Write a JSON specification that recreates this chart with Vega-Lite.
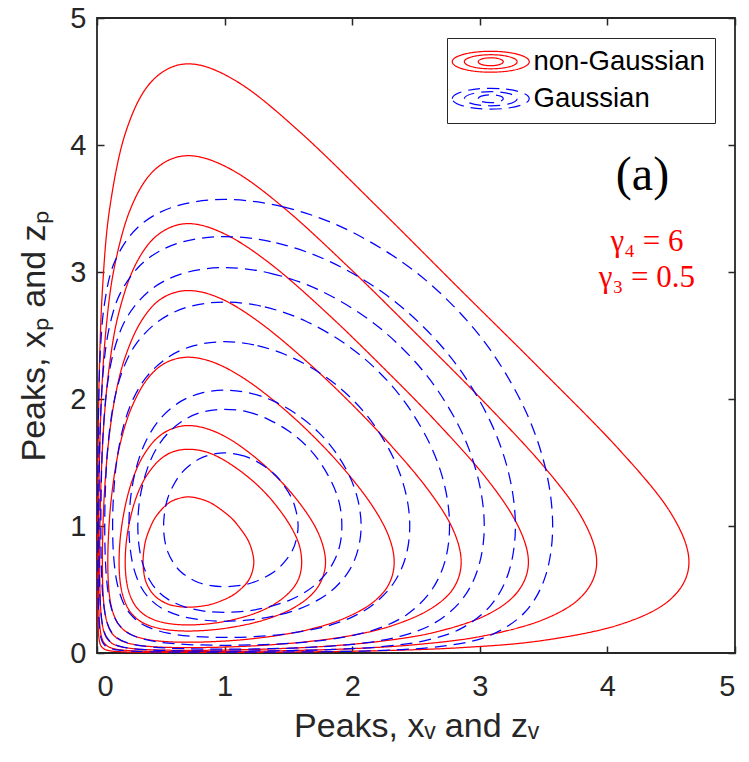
{
"$schema": "https://vega.github.io/schema/vega-lite/v6.json",
"width": 638, "height": 635,
"autosize": {"type": "none"},
"padding": {"left": 97, "top": 18, "right": 14, "bottom": 109},
"background": "white",
"config": {
 "view": {"stroke": "#262626", "strokeWidth": 1.8},
 "axis": {"domain": false, "grid": false, "tickSize": -7, "tickWidth": 1.5, "tickColor": "#262626", "labelFont": "Liberation Sans", "labelFontSize": 29, "labelColor": "#262626", "titleFont": "Liberation Sans", "titleFontSize": 34, "titleFontWeight": "normal", "titleColor": "#262626"},
 "axisBottom": {"labelPadding": 26, "titlePadding": 8},
 "axisLeft": {"labelPadding": 18, "titlePadding": 18}
},
"datasets": {"contours": [
{"k":"Gaussian","c":"B1","i":1,"x":1,"y":3.571},{"k":"Gaussian","c":"B1","i":2,"x":1.453,"y":3.515},{"k":"Gaussian","c":"B1","i":3,"x":1.919,"y":3.353},{"k":"Gaussian","c":"B1","i":4,"x":2.384,"y":3.084},{"k":"Gaussian","c":"B1","i":5,"x":2.763,"y":2.763},{"k":"Gaussian","c":"B1","i":6,"x":3.084,"y":2.384},{"k":"Gaussian","c":"B1","i":7,"x":3.353,"y":1.919},{"k":"Gaussian","c":"B1","i":8,"x":3.515,"y":1.453},{"k":"Gaussian","c":"B1","i":9,"x":3.571,"y":1},{"k":"Gaussian","c":"B1","i":10,"x":3.515,"y":0.607},{"k":"Gaussian","c":"B1","i":11,"x":3.353,"y":0.321},{"k":"Gaussian","c":"B1","i":12,"x":3.084,"y":0.14},{"k":"Gaussian","c":"B1","i":13,"x":2.763,"y":0.0607},{"k":"Gaussian","c":"B1","i":14,"x":2.384,"y":0.0265},{"k":"Gaussian","c":"B1","i":15,"x":1.919,"y":0.0121},{"k":"Gaussian","c":"B1","i":16,"x":1.453,"y":0.0073},{"k":"Gaussian","c":"B1","i":17,"x":1,"y":0.0061},{"k":"Gaussian","c":"B1","i":18,"x":0.607,"y":0.0073},{"k":"Gaussian","c":"B1","i":19,"x":0.321,"y":0.0121},{"k":"Gaussian","c":"B1","i":20,"x":0.14,"y":0.0265},{"k":"Gaussian","c":"B1","i":21,"x":0.0607,"y":0.0607},{"k":"Gaussian","c":"B1","i":22,"x":0.0265,"y":0.14},{"k":"Gaussian","c":"B1","i":23,"x":0.0121,"y":0.321},{"k":"Gaussian","c":"B1","i":24,"x":0.0073,"y":0.607},{"k":"Gaussian","c":"B1","i":25,"x":0.0061,"y":1},{"k":"Gaussian","c":"B1","i":26,"x":0.0073,"y":1.453},{"k":"Gaussian","c":"B1","i":27,"x":0.0121,"y":1.919},{"k":"Gaussian","c":"B1","i":28,"x":0.0265,"y":2.384},{"k":"Gaussian","c":"B1","i":29,"x":0.0607,"y":2.763},{"k":"Gaussian","c":"B1","i":30,"x":0.14,"y":3.084},{"k":"Gaussian","c":"B1","i":31,"x":0.321,"y":3.353},{"k":"Gaussian","c":"B1","i":32,"x":0.607,"y":3.515},
{"k":"Gaussian","c":"B2","i":1,"x":1,"y":3.279},{"k":"Gaussian","c":"B2","i":2,"x":1.405,"y":3.229},{"k":"Gaussian","c":"B2","i":3,"x":1.816,"y":3.086},{"k":"Gaussian","c":"B2","i":4,"x":2.227,"y":2.848},{"k":"Gaussian","c":"B2","i":5,"x":2.563,"y":2.563},{"k":"Gaussian","c":"B2","i":6,"x":2.848,"y":2.227},{"k":"Gaussian","c":"B2","i":7,"x":3.086,"y":1.816},{"k":"Gaussian","c":"B2","i":8,"x":3.229,"y":1.405},{"k":"Gaussian","c":"B2","i":9,"x":3.279,"y":1},{"k":"Gaussian","c":"B2","i":10,"x":3.229,"y":0.644},{"k":"Gaussian","c":"B2","i":11,"x":3.086,"y":0.375},{"k":"Gaussian","c":"B2","i":12,"x":2.848,"y":0.19},{"k":"Gaussian","c":"B2","i":13,"x":2.563,"y":0.0963},{"k":"Gaussian","c":"B2","i":14,"x":2.227,"y":0.0494},{"k":"Gaussian","c":"B2","i":15,"x":1.816,"y":0.0264},{"k":"Gaussian","c":"B2","i":16,"x":1.405,"y":0.0176},{"k":"Gaussian","c":"B2","i":17,"x":1,"y":0.0152},{"k":"Gaussian","c":"B2","i":18,"x":0.644,"y":0.0176},{"k":"Gaussian","c":"B2","i":19,"x":0.375,"y":0.0264},{"k":"Gaussian","c":"B2","i":20,"x":0.19,"y":0.0494},{"k":"Gaussian","c":"B2","i":21,"x":0.0963,"y":0.0963},{"k":"Gaussian","c":"B2","i":22,"x":0.0494,"y":0.19},{"k":"Gaussian","c":"B2","i":23,"x":0.0264,"y":0.375},{"k":"Gaussian","c":"B2","i":24,"x":0.0176,"y":0.644},{"k":"Gaussian","c":"B2","i":25,"x":0.0152,"y":1},{"k":"Gaussian","c":"B2","i":26,"x":0.0176,"y":1.405},{"k":"Gaussian","c":"B2","i":27,"x":0.0264,"y":1.816},{"k":"Gaussian","c":"B2","i":28,"x":0.0494,"y":2.227},{"k":"Gaussian","c":"B2","i":29,"x":0.0963,"y":2.563},{"k":"Gaussian","c":"B2","i":30,"x":0.19,"y":2.848},{"k":"Gaussian","c":"B2","i":31,"x":0.375,"y":3.086},{"k":"Gaussian","c":"B2","i":32,"x":0.644,"y":3.229},
{"k":"Gaussian","c":"B3","i":1,"x":1,"y":3.035},{"k":"Gaussian","c":"B3","i":2,"x":1.361,"y":2.99},{"k":"Gaussian","c":"B3","i":3,"x":1.73,"y":2.863},{"k":"Gaussian","c":"B3","i":4,"x":2.097,"y":2.65},{"k":"Gaussian","c":"B3","i":5,"x":2.396,"y":2.396},{"k":"Gaussian","c":"B3","i":6,"x":2.65,"y":2.097},{"k":"Gaussian","c":"B3","i":7,"x":2.863,"y":1.73},{"k":"Gaussian","c":"B3","i":8,"x":2.99,"y":1.361},{"k":"Gaussian","c":"B3","i":9,"x":3.035,"y":1},{"k":"Gaussian","c":"B3","i":10,"x":2.99,"y":0.678},{"k":"Gaussian","c":"B3","i":11,"x":2.863,"y":0.424},{"k":"Gaussian","c":"B3","i":12,"x":2.65,"y":0.239},{"k":"Gaussian","c":"B3","i":13,"x":2.396,"y":0.137},{"k":"Gaussian","c":"B3","i":14,"x":2.097,"y":0.0794},{"k":"Gaussian","c":"B3","i":15,"x":1.73,"y":0.0476},{"k":"Gaussian","c":"B3","i":16,"x":1.361,"y":0.0342},{"k":"Gaussian","c":"B3","i":17,"x":1,"y":0.0303},{"k":"Gaussian","c":"B3","i":18,"x":0.678,"y":0.0342},{"k":"Gaussian","c":"B3","i":19,"x":0.424,"y":0.0476},{"k":"Gaussian","c":"B3","i":20,"x":0.239,"y":0.0794},{"k":"Gaussian","c":"B3","i":21,"x":0.137,"y":0.137},{"k":"Gaussian","c":"B3","i":22,"x":0.0794,"y":0.239},{"k":"Gaussian","c":"B3","i":23,"x":0.0476,"y":0.424},{"k":"Gaussian","c":"B3","i":24,"x":0.0342,"y":0.678},{"k":"Gaussian","c":"B3","i":25,"x":0.0303,"y":1},{"k":"Gaussian","c":"B3","i":26,"x":0.0342,"y":1.361},{"k":"Gaussian","c":"B3","i":27,"x":0.0476,"y":1.73},{"k":"Gaussian","c":"B3","i":28,"x":0.0794,"y":2.097},{"k":"Gaussian","c":"B3","i":29,"x":0.137,"y":2.396},{"k":"Gaussian","c":"B3","i":30,"x":0.239,"y":2.65},{"k":"Gaussian","c":"B3","i":31,"x":0.424,"y":2.863},{"k":"Gaussian","c":"B3","i":32,"x":0.678,"y":2.99},
{"k":"Gaussian","c":"B4","i":1,"x":1,"y":2.763},{"k":"Gaussian","c":"B4","i":2,"x":1.315,"y":2.725},{"k":"Gaussian","c":"B4","i":3,"x":1.634,"y":2.614},{"k":"Gaussian","c":"B4","i":4,"x":1.951,"y":2.43},{"k":"Gaussian","c":"B4","i":5,"x":2.211,"y":2.211},{"k":"Gaussian","c":"B4","i":6,"x":2.43,"y":1.951},{"k":"Gaussian","c":"B4","i":7,"x":2.614,"y":1.634},{"k":"Gaussian","c":"B4","i":8,"x":2.725,"y":1.315},{"k":"Gaussian","c":"B4","i":9,"x":2.763,"y":1},{"k":"Gaussian","c":"B4","i":10,"x":2.725,"y":0.715},{"k":"Gaussian","c":"B4","i":11,"x":2.614,"y":0.484},{"k":"Gaussian","c":"B4","i":12,"x":2.43,"y":0.304},{"k":"Gaussian","c":"B4","i":13,"x":2.211,"y":0.1955},{"k":"Gaussian","c":"B4","i":14,"x":1.951,"y":0.1278},{"k":"Gaussian","c":"B4","i":15,"x":1.634,"y":0.086},{"k":"Gaussian","c":"B4","i":16,"x":1.315,"y":0.0666},{"k":"Gaussian","c":"B4","i":17,"x":1,"y":0.0607},{"k":"Gaussian","c":"B4","i":18,"x":0.715,"y":0.0666},{"k":"Gaussian","c":"B4","i":19,"x":0.484,"y":0.086},{"k":"Gaussian","c":"B4","i":20,"x":0.304,"y":0.1278},{"k":"Gaussian","c":"B4","i":21,"x":0.1955,"y":0.1955},{"k":"Gaussian","c":"B4","i":22,"x":0.1278,"y":0.304},{"k":"Gaussian","c":"B4","i":23,"x":0.086,"y":0.484},{"k":"Gaussian","c":"B4","i":24,"x":0.0666,"y":0.715},{"k":"Gaussian","c":"B4","i":25,"x":0.0607,"y":1},{"k":"Gaussian","c":"B4","i":26,"x":0.0666,"y":1.315},{"k":"Gaussian","c":"B4","i":27,"x":0.086,"y":1.634},{"k":"Gaussian","c":"B4","i":28,"x":0.1278,"y":1.951},{"k":"Gaussian","c":"B4","i":29,"x":0.1955,"y":2.211},{"k":"Gaussian","c":"B4","i":30,"x":0.304,"y":2.43},{"k":"Gaussian","c":"B4","i":31,"x":0.484,"y":2.614},{"k":"Gaussian","c":"B4","i":32,"x":0.715,"y":2.725},
{"k":"Gaussian","c":"B5","i":1,"x":1,"y":2.451},{"k":"Gaussian","c":"B5","i":2,"x":1.258,"y":2.42},{"k":"Gaussian","c":"B5","i":3,"x":1.523,"y":2.329},{"k":"Gaussian","c":"B5","i":4,"x":1.786,"y":2.178},{"k":"Gaussian","c":"B5","i":5,"x":1.999,"y":1.999},{"k":"Gaussian","c":"B5","i":6,"x":2.178,"y":1.786},{"k":"Gaussian","c":"B5","i":7,"x":2.329,"y":1.523},{"k":"Gaussian","c":"B5","i":8,"x":2.42,"y":1.258},{"k":"Gaussian","c":"B5","i":9,"x":2.451,"y":1},{"k":"Gaussian","c":"B5","i":10,"x":2.42,"y":0.76},{"k":"Gaussian","c":"B5","i":11,"x":2.329,"y":0.557},{"k":"Gaussian","c":"B5","i":12,"x":2.178,"y":0.392},{"k":"Gaussian","c":"B5","i":13,"x":1.999,"y":0.283},{"k":"Gaussian","c":"B5","i":14,"x":1.786,"y":0.2077},{"k":"Gaussian","c":"B5","i":15,"x":1.523,"y":0.1562},{"k":"Gaussian","c":"B5","i":16,"x":1.258,"y":0.1305},{"k":"Gaussian","c":"B5","i":17,"x":1,"y":0.1223},{"k":"Gaussian","c":"B5","i":18,"x":0.76,"y":0.1305},{"k":"Gaussian","c":"B5","i":19,"x":0.557,"y":0.1562},{"k":"Gaussian","c":"B5","i":20,"x":0.392,"y":0.2077},{"k":"Gaussian","c":"B5","i":21,"x":0.283,"y":0.283},{"k":"Gaussian","c":"B5","i":22,"x":0.2077,"y":0.392},{"k":"Gaussian","c":"B5","i":23,"x":0.1562,"y":0.557},{"k":"Gaussian","c":"B5","i":24,"x":0.1305,"y":0.76},{"k":"Gaussian","c":"B5","i":25,"x":0.1223,"y":1},{"k":"Gaussian","c":"B5","i":26,"x":0.1305,"y":1.258},{"k":"Gaussian","c":"B5","i":27,"x":0.1562,"y":1.523},{"k":"Gaussian","c":"B5","i":28,"x":0.2077,"y":1.786},{"k":"Gaussian","c":"B5","i":29,"x":0.283,"y":1.999},{"k":"Gaussian","c":"B5","i":30,"x":0.392,"y":2.178},{"k":"Gaussian","c":"B5","i":31,"x":0.557,"y":2.329},{"k":"Gaussian","c":"B5","i":32,"x":0.76,"y":2.42},
{"k":"Gaussian","c":"B6","i":1,"x":1,"y":2.07},{"k":"Gaussian","c":"B6","i":2,"x":1.199,"y":2.046},{"k":"Gaussian","c":"B6","i":3,"x":1.389,"y":1.981},{"k":"Gaussian","c":"B6","i":4,"x":1.581,"y":1.869},{"k":"Gaussian","c":"B6","i":5,"x":1.737,"y":1.737},{"k":"Gaussian","c":"B6","i":6,"x":1.869,"y":1.581},{"k":"Gaussian","c":"B6","i":7,"x":1.981,"y":1.389},{"k":"Gaussian","c":"B6","i":8,"x":2.046,"y":1.199},{"k":"Gaussian","c":"B6","i":9,"x":2.07,"y":1},{"k":"Gaussian","c":"B6","i":10,"x":2.046,"y":0.816},{"k":"Gaussian","c":"B6","i":11,"x":1.981,"y":0.656},{"k":"Gaussian","c":"B6","i":12,"x":1.869,"y":0.518},{"k":"Gaussian","c":"B6","i":13,"x":1.737,"y":0.42},{"k":"Gaussian","c":"B6","i":14,"x":1.581,"y":0.346},{"k":"Gaussian","c":"B6","i":15,"x":1.389,"y":0.291},{"k":"Gaussian","c":"B6","i":16,"x":1.199,"y":0.261},{"k":"Gaussian","c":"B6","i":17,"x":1,"y":0.25},{"k":"Gaussian","c":"B6","i":18,"x":0.816,"y":0.261},{"k":"Gaussian","c":"B6","i":19,"x":0.656,"y":0.291},{"k":"Gaussian","c":"B6","i":20,"x":0.518,"y":0.346},{"k":"Gaussian","c":"B6","i":21,"x":0.42,"y":0.42},{"k":"Gaussian","c":"B6","i":22,"x":0.346,"y":0.518},{"k":"Gaussian","c":"B6","i":23,"x":0.291,"y":0.656},{"k":"Gaussian","c":"B6","i":24,"x":0.261,"y":0.816},{"k":"Gaussian","c":"B6","i":25,"x":0.25,"y":1},{"k":"Gaussian","c":"B6","i":26,"x":0.261,"y":1.199},{"k":"Gaussian","c":"B6","i":27,"x":0.291,"y":1.389},{"k":"Gaussian","c":"B6","i":28,"x":0.346,"y":1.581},{"k":"Gaussian","c":"B6","i":29,"x":0.42,"y":1.737},{"k":"Gaussian","c":"B6","i":30,"x":0.518,"y":1.869},{"k":"Gaussian","c":"B6","i":31,"x":0.656,"y":1.981},{"k":"Gaussian","c":"B6","i":32,"x":0.816,"y":2.046},
{"k":"Gaussian","c":"B7","i":1,"x":1,"y":1.919},{"k":"Gaussian","c":"B7","i":2,"x":1.172,"y":1.901},{"k":"Gaussian","c":"B7","i":3,"x":1.334,"y":1.844},{"k":"Gaussian","c":"B7","i":4,"x":1.502,"y":1.748},{"k":"Gaussian","c":"B7","i":5,"x":1.636,"y":1.636},{"k":"Gaussian","c":"B7","i":6,"x":1.748,"y":1.502},{"k":"Gaussian","c":"B7","i":7,"x":1.844,"y":1.334},{"k":"Gaussian","c":"B7","i":8,"x":1.901,"y":1.172},{"k":"Gaussian","c":"B7","i":9,"x":1.919,"y":1},{"k":"Gaussian","c":"B7","i":10,"x":1.901,"y":0.839},{"k":"Gaussian","c":"B7","i":11,"x":1.844,"y":0.698},{"k":"Gaussian","c":"B7","i":12,"x":1.748,"y":0.573},{"k":"Gaussian","c":"B7","i":13,"x":1.636,"y":0.482},{"k":"Gaussian","c":"B7","i":14,"x":1.502,"y":0.413},{"k":"Gaussian","c":"B7","i":15,"x":1.334,"y":0.36},{"k":"Gaussian","c":"B7","i":16,"x":1.172,"y":0.33},{"k":"Gaussian","c":"B7","i":17,"x":1,"y":0.32},{"k":"Gaussian","c":"B7","i":18,"x":0.839,"y":0.33},{"k":"Gaussian","c":"B7","i":19,"x":0.698,"y":0.36},{"k":"Gaussian","c":"B7","i":20,"x":0.573,"y":0.413},{"k":"Gaussian","c":"B7","i":21,"x":0.482,"y":0.482},{"k":"Gaussian","c":"B7","i":22,"x":0.413,"y":0.573},{"k":"Gaussian","c":"B7","i":23,"x":0.36,"y":0.698},{"k":"Gaussian","c":"B7","i":24,"x":0.33,"y":0.839},{"k":"Gaussian","c":"B7","i":25,"x":0.32,"y":1},{"k":"Gaussian","c":"B7","i":26,"x":0.33,"y":1.172},{"k":"Gaussian","c":"B7","i":27,"x":0.36,"y":1.334},{"k":"Gaussian","c":"B7","i":28,"x":0.413,"y":1.502},{"k":"Gaussian","c":"B7","i":29,"x":0.482,"y":1.636},{"k":"Gaussian","c":"B7","i":30,"x":0.573,"y":1.748},{"k":"Gaussian","c":"B7","i":31,"x":0.698,"y":1.844},{"k":"Gaussian","c":"B7","i":32,"x":0.839,"y":1.901},
{"k":"Gaussian","c":"B8","i":1,"x":1,"y":1.576},{"k":"Gaussian","c":"B8","i":2,"x":1.109,"y":1.562},{"k":"Gaussian","c":"B8","i":3,"x":1.215,"y":1.528},{"k":"Gaussian","c":"B8","i":4,"x":1.315,"y":1.468},{"k":"Gaussian","c":"B8","i":5,"x":1.4,"y":1.4},{"k":"Gaussian","c":"B8","i":6,"x":1.468,"y":1.315},{"k":"Gaussian","c":"B8","i":7,"x":1.528,"y":1.215},{"k":"Gaussian","c":"B8","i":8,"x":1.562,"y":1.109},{"k":"Gaussian","c":"B8","i":9,"x":1.576,"y":1},{"k":"Gaussian","c":"B8","i":10,"x":1.562,"y":0.894},{"k":"Gaussian","c":"B8","i":11,"x":1.528,"y":0.8},{"k":"Gaussian","c":"B8","i":12,"x":1.468,"y":0.715},{"k":"Gaussian","c":"B8","i":13,"x":1.4,"y":0.648},{"k":"Gaussian","c":"B8","i":14,"x":1.315,"y":0.596},{"k":"Gaussian","c":"B8","i":15,"x":1.215,"y":0.553},{"k":"Gaussian","c":"B8","i":16,"x":1.109,"y":0.53},{"k":"Gaussian","c":"B8","i":17,"x":1,"y":0.522},{"k":"Gaussian","c":"B8","i":18,"x":0.894,"y":0.53},{"k":"Gaussian","c":"B8","i":19,"x":0.8,"y":0.553},{"k":"Gaussian","c":"B8","i":20,"x":0.715,"y":0.596},{"k":"Gaussian","c":"B8","i":21,"x":0.648,"y":0.648},{"k":"Gaussian","c":"B8","i":22,"x":0.596,"y":0.715},{"k":"Gaussian","c":"B8","i":23,"x":0.553,"y":0.8},{"k":"Gaussian","c":"B8","i":24,"x":0.53,"y":0.894},{"k":"Gaussian","c":"B8","i":25,"x":0.522,"y":1},{"k":"Gaussian","c":"B8","i":26,"x":0.53,"y":1.109},{"k":"Gaussian","c":"B8","i":27,"x":0.553,"y":1.215},{"k":"Gaussian","c":"B8","i":28,"x":0.596,"y":1.315},{"k":"Gaussian","c":"B8","i":29,"x":0.648,"y":1.4},{"k":"Gaussian","c":"B8","i":30,"x":0.715,"y":1.468},{"k":"Gaussian","c":"B8","i":31,"x":0.8,"y":1.528},{"k":"Gaussian","c":"B8","i":32,"x":0.894,"y":1.562},
{"k":"non-Gaussian","c":"R1","i":1,"x":0.716,"y":4.639},{"k":"non-Gaussian","c":"R1","i":2,"x":1.108,"y":4.493},{"k":"non-Gaussian","c":"R1","i":3,"x":1.604,"y":4.09},{"k":"non-Gaussian","c":"R1","i":4,"x":2.227,"y":3.483},{"k":"non-Gaussian","c":"R1","i":5,"x":2.854,"y":2.854},{"k":"non-Gaussian","c":"R1","i":6,"x":3.483,"y":2.227},{"k":"non-Gaussian","c":"R1","i":7,"x":4.09,"y":1.604},{"k":"non-Gaussian","c":"R1","i":8,"x":4.493,"y":1.108},{"k":"non-Gaussian","c":"R1","i":9,"x":4.639,"y":0.716},{"k":"non-Gaussian","c":"R1","i":10,"x":4.493,"y":0.4215},{"k":"non-Gaussian","c":"R1","i":11,"x":4.09,"y":0.2215},{"k":"non-Gaussian","c":"R1","i":12,"x":3.483,"y":0.0969},{"k":"non-Gaussian","c":"R1","i":13,"x":2.854,"y":0.0422},{"k":"non-Gaussian","c":"R1","i":14,"x":2.227,"y":0.0184},{"k":"non-Gaussian","c":"R1","i":15,"x":1.604,"y":0.0084},{"k":"non-Gaussian","c":"R1","i":16,"x":1.108,"y":0.0051},{"k":"non-Gaussian","c":"R1","i":17,"x":0.716,"y":0.0042},{"k":"non-Gaussian","c":"R1","i":18,"x":0.4215,"y":0.0051},{"k":"non-Gaussian","c":"R1","i":19,"x":0.2215,"y":0.0084},{"k":"non-Gaussian","c":"R1","i":20,"x":0.0969,"y":0.0184},{"k":"non-Gaussian","c":"R1","i":21,"x":0.0422,"y":0.0422},{"k":"non-Gaussian","c":"R1","i":22,"x":0.0184,"y":0.0969},{"k":"non-Gaussian","c":"R1","i":23,"x":0.0084,"y":0.2215},{"k":"non-Gaussian","c":"R1","i":24,"x":0.0051,"y":0.4215},{"k":"non-Gaussian","c":"R1","i":25,"x":0.0042,"y":0.716},{"k":"non-Gaussian","c":"R1","i":26,"x":0.0051,"y":1.108},{"k":"non-Gaussian","c":"R1","i":27,"x":0.0084,"y":1.604},{"k":"non-Gaussian","c":"R1","i":28,"x":0.0184,"y":2.227},{"k":"non-Gaussian","c":"R1","i":29,"x":0.0422,"y":2.854},{"k":"non-Gaussian","c":"R1","i":30,"x":0.0969,"y":3.483},{"k":"non-Gaussian","c":"R1","i":31,"x":0.2215,"y":4.09},{"k":"non-Gaussian","c":"R1","i":32,"x":0.4215,"y":4.493},
{"k":"non-Gaussian","c":"R2","i":1,"x":0.716,"y":3.916},{"k":"non-Gaussian","c":"R2","i":2,"x":1.063,"y":3.801},{"k":"non-Gaussian","c":"R2","i":3,"x":1.485,"y":3.488},{"k":"non-Gaussian","c":"R2","i":4,"x":2.0,"y":3.011},{"k":"non-Gaussian","c":"R2","i":5,"x":2.508,"y":2.508},{"k":"non-Gaussian","c":"R2","i":6,"x":3.011,"y":2.0},{"k":"non-Gaussian","c":"R2","i":7,"x":3.488,"y":1.485},{"k":"non-Gaussian","c":"R2","i":8,"x":3.801,"y":1.063},{"k":"non-Gaussian","c":"R2","i":9,"x":3.916,"y":0.716},{"k":"non-Gaussian","c":"R2","i":10,"x":3.801,"y":0.448},{"k":"non-Gaussian","c":"R2","i":11,"x":3.488,"y":0.259},{"k":"non-Gaussian","c":"R2","i":12,"x":3.011,"y":0.131},{"k":"non-Gaussian","c":"R2","i":13,"x":2.508,"y":0.0668},{"k":"non-Gaussian","c":"R2","i":14,"x":2.0,"y":0.0343},{"k":"non-Gaussian","c":"R2","i":15,"x":1.485,"y":0.0183},{"k":"non-Gaussian","c":"R2","i":16,"x":1.063,"y":0.0122},{"k":"non-Gaussian","c":"R2","i":17,"x":0.716,"y":0.0105},{"k":"non-Gaussian","c":"R2","i":18,"x":0.448,"y":0.0122},{"k":"non-Gaussian","c":"R2","i":19,"x":0.259,"y":0.0183},{"k":"non-Gaussian","c":"R2","i":20,"x":0.131,"y":0.0343},{"k":"non-Gaussian","c":"R2","i":21,"x":0.0668,"y":0.0668},{"k":"non-Gaussian","c":"R2","i":22,"x":0.0343,"y":0.131},{"k":"non-Gaussian","c":"R2","i":23,"x":0.0183,"y":0.259},{"k":"non-Gaussian","c":"R2","i":24,"x":0.0122,"y":0.448},{"k":"non-Gaussian","c":"R2","i":25,"x":0.0105,"y":0.716},{"k":"non-Gaussian","c":"R2","i":26,"x":0.0122,"y":1.063},{"k":"non-Gaussian","c":"R2","i":27,"x":0.0183,"y":1.485},{"k":"non-Gaussian","c":"R2","i":28,"x":0.0343,"y":2.0},{"k":"non-Gaussian","c":"R2","i":29,"x":0.0668,"y":2.508},{"k":"non-Gaussian","c":"R2","i":30,"x":0.131,"y":3.011},{"k":"non-Gaussian","c":"R2","i":31,"x":0.259,"y":3.488},{"k":"non-Gaussian","c":"R2","i":32,"x":0.448,"y":3.801},
{"k":"non-Gaussian","c":"R3","i":1,"x":0.716,"y":3.381},{"k":"non-Gaussian","c":"R3","i":2,"x":1.022,"y":3.289},{"k":"non-Gaussian","c":"R3","i":3,"x":1.39,"y":3.04},{"k":"non-Gaussian","c":"R3","i":4,"x":1.825,"y":2.655},{"k":"non-Gaussian","c":"R3","i":5,"x":2.245,"y":2.245},{"k":"non-Gaussian","c":"R3","i":6,"x":2.655,"y":1.825},{"k":"non-Gaussian","c":"R3","i":7,"x":3.04,"y":1.39},{"k":"non-Gaussian","c":"R3","i":8,"x":3.289,"y":1.022},{"k":"non-Gaussian","c":"R3","i":9,"x":3.381,"y":0.716},{"k":"non-Gaussian","c":"R3","i":10,"x":3.289,"y":0.4725},{"k":"non-Gaussian","c":"R3","i":11,"x":3.04,"y":0.293},{"k":"non-Gaussian","c":"R3","i":12,"x":2.655,"y":0.165},{"k":"non-Gaussian","c":"R3","i":13,"x":2.245,"y":0.0949},{"k":"non-Gaussian","c":"R3","i":14,"x":1.825,"y":0.0551},{"k":"non-Gaussian","c":"R3","i":15,"x":1.39,"y":0.033},{"k":"non-Gaussian","c":"R3","i":16,"x":1.022,"y":0.0237},{"k":"non-Gaussian","c":"R3","i":17,"x":0.716,"y":0.021},{"k":"non-Gaussian","c":"R3","i":18,"x":0.4725,"y":0.0237},{"k":"non-Gaussian","c":"R3","i":19,"x":0.293,"y":0.033},{"k":"non-Gaussian","c":"R3","i":20,"x":0.165,"y":0.0551},{"k":"non-Gaussian","c":"R3","i":21,"x":0.0949,"y":0.0949},{"k":"non-Gaussian","c":"R3","i":22,"x":0.0551,"y":0.165},{"k":"non-Gaussian","c":"R3","i":23,"x":0.033,"y":0.293},{"k":"non-Gaussian","c":"R3","i":24,"x":0.0237,"y":0.4725},{"k":"non-Gaussian","c":"R3","i":25,"x":0.021,"y":0.716},{"k":"non-Gaussian","c":"R3","i":26,"x":0.0237,"y":1.022},{"k":"non-Gaussian","c":"R3","i":27,"x":0.033,"y":1.39},{"k":"non-Gaussian","c":"R3","i":28,"x":0.0551,"y":1.825},{"k":"non-Gaussian","c":"R3","i":29,"x":0.0949,"y":2.245},{"k":"non-Gaussian","c":"R3","i":30,"x":0.165,"y":2.655},{"k":"non-Gaussian","c":"R3","i":31,"x":0.293,"y":3.04},{"k":"non-Gaussian","c":"R3","i":32,"x":0.4725,"y":3.289},
{"k":"non-Gaussian","c":"R4","i":1,"x":0.716,"y":2.854},{"k":"non-Gaussian","c":"R4","i":2,"x":0.981,"y":2.786},{"k":"non-Gaussian","c":"R4","i":3,"x":1.288,"y":2.593},{"k":"non-Gaussian","c":"R4","i":4,"x":1.642,"y":2.297},{"k":"non-Gaussian","c":"R4","i":5,"x":1.978,"y":1.978},{"k":"non-Gaussian","c":"R4","i":6,"x":2.297,"y":1.642},{"k":"non-Gaussian","c":"R4","i":7,"x":2.593,"y":1.288},{"k":"non-Gaussian","c":"R4","i":8,"x":2.786,"y":0.981},{"k":"non-Gaussian","c":"R4","i":9,"x":2.854,"y":0.716},{"k":"non-Gaussian","c":"R4","i":10,"x":2.786,"y":0.499},{"k":"non-Gaussian","c":"R4","i":11,"x":2.593,"y":0.335},{"k":"non-Gaussian","c":"R4","i":12,"x":2.297,"y":0.21},{"k":"non-Gaussian","c":"R4","i":13,"x":1.978,"y":0.135},{"k":"non-Gaussian","c":"R4","i":14,"x":1.642,"y":0.0885},{"k":"non-Gaussian","c":"R4","i":15,"x":1.288,"y":0.0597},{"k":"non-Gaussian","c":"R4","i":16,"x":0.981,"y":0.0462},{"k":"non-Gaussian","c":"R4","i":17,"x":0.716,"y":0.0422},{"k":"non-Gaussian","c":"R4","i":18,"x":0.499,"y":0.0462},{"k":"non-Gaussian","c":"R4","i":19,"x":0.335,"y":0.0597},{"k":"non-Gaussian","c":"R4","i":20,"x":0.21,"y":0.0885},{"k":"non-Gaussian","c":"R4","i":21,"x":0.135,"y":0.135},{"k":"non-Gaussian","c":"R4","i":22,"x":0.0885,"y":0.21},{"k":"non-Gaussian","c":"R4","i":23,"x":0.0597,"y":0.335},{"k":"non-Gaussian","c":"R4","i":24,"x":0.0462,"y":0.499},{"k":"non-Gaussian","c":"R4","i":25,"x":0.0422,"y":0.716},{"k":"non-Gaussian","c":"R4","i":26,"x":0.0462,"y":0.981},{"k":"non-Gaussian","c":"R4","i":27,"x":0.0597,"y":1.288},{"k":"non-Gaussian","c":"R4","i":28,"x":0.0885,"y":1.642},{"k":"non-Gaussian","c":"R4","i":29,"x":0.135,"y":1.978},{"k":"non-Gaussian","c":"R4","i":30,"x":0.21,"y":2.297},{"k":"non-Gaussian","c":"R4","i":31,"x":0.335,"y":2.593},{"k":"non-Gaussian","c":"R4","i":32,"x":0.499,"y":2.786},
{"k":"non-Gaussian","c":"R5","i":1,"x":0.716,"y":2.329},{"k":"non-Gaussian","c":"R5","i":2,"x":0.93,"y":2.282},{"k":"non-Gaussian","c":"R5","i":3,"x":1.176,"y":2.146},{"k":"non-Gaussian","c":"R5","i":4,"x":1.451,"y":1.933},{"k":"non-Gaussian","c":"R5","i":5,"x":1.701,"y":1.701},{"k":"non-Gaussian","c":"R5","i":6,"x":1.933,"y":1.451},{"k":"non-Gaussian","c":"R5","i":7,"x":2.146,"y":1.176},{"k":"non-Gaussian","c":"R5","i":8,"x":2.282,"y":0.93},{"k":"non-Gaussian","c":"R5","i":9,"x":2.329,"y":0.716},{"k":"non-Gaussian","c":"R5","i":10,"x":2.282,"y":0.532},{"k":"non-Gaussian","c":"R5","i":11,"x":2.146,"y":0.386},{"k":"non-Gaussian","c":"R5","i":12,"x":1.933,"y":0.271},{"k":"non-Gaussian","c":"R5","i":13,"x":1.701,"y":0.195},{"k":"non-Gaussian","c":"R5","i":14,"x":1.451,"y":0.1435},{"k":"non-Gaussian","c":"R5","i":15,"x":1.176,"y":0.108},{"k":"non-Gaussian","c":"R5","i":16,"x":0.93,"y":0.0904},{"k":"non-Gaussian","c":"R5","i":17,"x":0.716,"y":0.0847},{"k":"non-Gaussian","c":"R5","i":18,"x":0.532,"y":0.0904},{"k":"non-Gaussian","c":"R5","i":19,"x":0.386,"y":0.108},{"k":"non-Gaussian","c":"R5","i":20,"x":0.271,"y":0.1435},{"k":"non-Gaussian","c":"R5","i":21,"x":0.195,"y":0.195},{"k":"non-Gaussian","c":"R5","i":22,"x":0.1435,"y":0.271},{"k":"non-Gaussian","c":"R5","i":23,"x":0.108,"y":0.386},{"k":"non-Gaussian","c":"R5","i":24,"x":0.0904,"y":0.532},{"k":"non-Gaussian","c":"R5","i":25,"x":0.0847,"y":0.716},{"k":"non-Gaussian","c":"R5","i":26,"x":0.0904,"y":0.93},{"k":"non-Gaussian","c":"R5","i":27,"x":0.108,"y":1.176},{"k":"non-Gaussian","c":"R5","i":28,"x":0.1435,"y":1.451},{"k":"non-Gaussian","c":"R5","i":29,"x":0.195,"y":1.701},{"k":"non-Gaussian","c":"R5","i":30,"x":0.271,"y":1.933},{"k":"non-Gaussian","c":"R5","i":31,"x":0.386,"y":2.146},{"k":"non-Gaussian","c":"R5","i":32,"x":0.532,"y":2.282},
{"k":"non-Gaussian","c":"R6","i":1,"x":0.716,"y":1.791},{"k":"non-Gaussian","c":"R6","i":2,"x":0.879,"y":1.76},{"k":"non-Gaussian","c":"R6","i":3,"x":1.048,"y":1.679},{"k":"non-Gaussian","c":"R6","i":4,"x":1.234,"y":1.545},{"k":"non-Gaussian","c":"R6","i":5,"x":1.397,"y":1.397},{"k":"non-Gaussian","c":"R6","i":6,"x":1.545,"y":1.234},{"k":"non-Gaussian","c":"R6","i":7,"x":1.679,"y":1.048},{"k":"non-Gaussian","c":"R6","i":8,"x":1.76,"y":0.879},{"k":"non-Gaussian","c":"R6","i":9,"x":1.791,"y":0.716},{"k":"non-Gaussian","c":"R6","i":10,"x":1.76,"y":0.574},{"k":"non-Gaussian","c":"R6","i":11,"x":1.679,"y":0.457},{"k":"non-Gaussian","c":"R6","i":12,"x":1.545,"y":0.358},{"k":"non-Gaussian","c":"R6","i":13,"x":1.397,"y":0.29},{"k":"non-Gaussian","c":"R6","i":14,"x":1.234,"y":0.239},{"k":"non-Gaussian","c":"R6","i":15,"x":1.048,"y":0.201},{"k":"non-Gaussian","c":"R6","i":16,"x":0.879,"y":0.18},{"k":"non-Gaussian","c":"R6","i":17,"x":0.716,"y":0.173},{"k":"non-Gaussian","c":"R6","i":18,"x":0.574,"y":0.18},{"k":"non-Gaussian","c":"R6","i":19,"x":0.457,"y":0.201},{"k":"non-Gaussian","c":"R6","i":20,"x":0.358,"y":0.239},{"k":"non-Gaussian","c":"R6","i":21,"x":0.29,"y":0.29},{"k":"non-Gaussian","c":"R6","i":22,"x":0.239,"y":0.358},{"k":"non-Gaussian","c":"R6","i":23,"x":0.201,"y":0.457},{"k":"non-Gaussian","c":"R6","i":24,"x":0.18,"y":0.574},{"k":"non-Gaussian","c":"R6","i":25,"x":0.173,"y":0.716},{"k":"non-Gaussian","c":"R6","i":26,"x":0.18,"y":0.879},{"k":"non-Gaussian","c":"R6","i":27,"x":0.201,"y":1.048},{"k":"non-Gaussian","c":"R6","i":28,"x":0.239,"y":1.234},{"k":"non-Gaussian","c":"R6","i":29,"x":0.29,"y":1.397},{"k":"non-Gaussian","c":"R6","i":30,"x":0.358,"y":1.545},{"k":"non-Gaussian","c":"R6","i":31,"x":0.457,"y":1.679},{"k":"non-Gaussian","c":"R6","i":32,"x":0.574,"y":1.76},
{"k":"non-Gaussian","c":"R7","i":1,"x":0.716,"y":1.604},{"k":"non-Gaussian","c":"R7","i":2,"x":0.856,"y":1.583},{"k":"non-Gaussian","c":"R7","i":3,"x":0.998,"y":1.517},{"k":"non-Gaussian","c":"R7","i":4,"x":1.155,"y":1.409},{"k":"non-Gaussian","c":"R7","i":5,"x":1.29,"y":1.29},{"k":"non-Gaussian","c":"R7","i":6,"x":1.409,"y":1.155},{"k":"non-Gaussian","c":"R7","i":7,"x":1.517,"y":0.998},{"k":"non-Gaussian","c":"R7","i":8,"x":1.583,"y":0.856},{"k":"non-Gaussian","c":"R7","i":9,"x":1.604,"y":0.716},{"k":"non-Gaussian","c":"R7","i":10,"x":1.583,"y":0.591},{"k":"non-Gaussian","c":"R7","i":11,"x":1.517,"y":0.487},{"k":"non-Gaussian","c":"R7","i":12,"x":1.409,"y":0.397},{"k":"non-Gaussian","c":"R7","i":13,"x":1.29,"y":0.333},{"k":"non-Gaussian","c":"R7","i":14,"x":1.155,"y":0.285},{"k":"non-Gaussian","c":"R7","i":15,"x":0.998,"y":0.248},{"k":"non-Gaussian","c":"R7","i":16,"x":0.856,"y":0.228},{"k":"non-Gaussian","c":"R7","i":17,"x":0.716,"y":0.221},{"k":"non-Gaussian","c":"R7","i":18,"x":0.591,"y":0.228},{"k":"non-Gaussian","c":"R7","i":19,"x":0.487,"y":0.248},{"k":"non-Gaussian","c":"R7","i":20,"x":0.397,"y":0.285},{"k":"non-Gaussian","c":"R7","i":21,"x":0.333,"y":0.333},{"k":"non-Gaussian","c":"R7","i":22,"x":0.285,"y":0.397},{"k":"non-Gaussian","c":"R7","i":23,"x":0.248,"y":0.487},{"k":"non-Gaussian","c":"R7","i":24,"x":0.228,"y":0.591},{"k":"non-Gaussian","c":"R7","i":25,"x":0.221,"y":0.716},{"k":"non-Gaussian","c":"R7","i":26,"x":0.228,"y":0.856},{"k":"non-Gaussian","c":"R7","i":27,"x":0.248,"y":0.998},{"k":"non-Gaussian","c":"R7","i":28,"x":0.285,"y":1.155},{"k":"non-Gaussian","c":"R7","i":29,"x":0.333,"y":1.29},{"k":"non-Gaussian","c":"R7","i":30,"x":0.397,"y":1.409},{"k":"non-Gaussian","c":"R7","i":31,"x":0.487,"y":1.517},{"k":"non-Gaussian","c":"R7","i":32,"x":0.591,"y":1.583},
{"k":"non-Gaussian","c":"R8","i":1,"x":0.716,"y":1.229},{"k":"non-Gaussian","c":"R8","i":2,"x":0.804,"y":1.215},{"k":"non-Gaussian","c":"R8","i":3,"x":0.893,"y":1.181},{"k":"non-Gaussian","c":"R8","i":4,"x":0.981,"y":1.122},{"k":"non-Gaussian","c":"R8","i":5,"x":1.058,"y":1.058},{"k":"non-Gaussian","c":"R8","i":6,"x":1.122,"y":0.981},{"k":"non-Gaussian","c":"R8","i":7,"x":1.181,"y":0.893},{"k":"non-Gaussian","c":"R8","i":8,"x":1.215,"y":0.804},{"k":"non-Gaussian","c":"R8","i":9,"x":1.229,"y":0.716},{"k":"non-Gaussian","c":"R8","i":10,"x":1.215,"y":0.633},{"k":"non-Gaussian","c":"R8","i":11,"x":1.181,"y":0.562},{"k":"non-Gaussian","c":"R8","i":12,"x":1.122,"y":0.499},{"k":"non-Gaussian","c":"R8","i":13,"x":1.058,"y":0.451},{"k":"non-Gaussian","c":"R8","i":14,"x":0.981,"y":0.414},{"k":"non-Gaussian","c":"R8","i":15,"x":0.893,"y":0.383},{"k":"non-Gaussian","c":"R8","i":16,"x":0.804,"y":0.367},{"k":"non-Gaussian","c":"R8","i":17,"x":0.716,"y":0.361},{"k":"non-Gaussian","c":"R8","i":18,"x":0.633,"y":0.367},{"k":"non-Gaussian","c":"R8","i":19,"x":0.562,"y":0.383},{"k":"non-Gaussian","c":"R8","i":20,"x":0.499,"y":0.414},{"k":"non-Gaussian","c":"R8","i":21,"x":0.451,"y":0.451},{"k":"non-Gaussian","c":"R8","i":22,"x":0.414,"y":0.499},{"k":"non-Gaussian","c":"R8","i":23,"x":0.383,"y":0.562},{"k":"non-Gaussian","c":"R8","i":24,"x":0.367,"y":0.633},{"k":"non-Gaussian","c":"R8","i":25,"x":0.361,"y":0.716},{"k":"non-Gaussian","c":"R8","i":26,"x":0.367,"y":0.804},{"k":"non-Gaussian","c":"R8","i":27,"x":0.383,"y":0.893},{"k":"non-Gaussian","c":"R8","i":28,"x":0.414,"y":0.981},{"k":"non-Gaussian","c":"R8","i":29,"x":0.451,"y":1.058},{"k":"non-Gaussian","c":"R8","i":30,"x":0.499,"y":1.122},{"k":"non-Gaussian","c":"R8","i":31,"x":0.562,"y":1.181},{"k":"non-Gaussian","c":"R8","i":32,"x":0.633,"y":1.215}
]},
"layer": [
 {"data": {"name": "contours"},
  "transform": [{"filter": "datum.k === 'non-Gaussian'"}],
  "mark": {"type": "line", "interpolate": "cardinal-closed", "strokeWidth": 1.25, "clip": true},
  "encoding": {
   "x": {"field": "x", "type": "quantitative", "scale": {"domain": [0, 5], "nice": false, "zero": false}, "axis": {"values": [0, 1, 2, 3, 4, 5], "title": "Peaks, xᵥ and zᵥ"}},
   "y": {"field": "y", "type": "quantitative", "scale": {"domain": [0, 5], "nice": false, "zero": false}, "axis": {"values": [0, 1, 2, 3, 4, 5], "title": "Peaks, xₚ and zₚ"}},
   "color": {"field": "k", "type": "nominal", "scale": {"domain": ["non-Gaussian", "Gaussian"], "range": ["#ff0000", "#0000ff"]},
     "legend": {"title": null, "orient": "top-right", "offset": 20, "symbolType": "M-3.5,0A3.5,0.95,0,1,1,3.5,0A3.5,0.95,0,1,1,-3.5,0M-2.4,0A2.4,0.64,0,1,1,2.4,0A2.4,0.64,0,1,1,-2.4,0M-1.14,0A1.14,0.36,0,1,1,1.14,0A1.14,0.36,0,1,1,-1.14,0", "symbolSize": 484, "symbolStrokeWidth": 1.2, "symbolFillColor": "transparent", "symbolOffset": 20, "labelOffset": 29, "labelFont": "Liberation Sans", "labelFontSize": 27.5, "labelColor": "#000000", "labelLimit": 400, "strokeColor": "#262626", "fillColor": "#ffffff", "padding": 10, "rowPadding": 8}},
   "strokeDash": {"field": "k", "type": "nominal", "scale": {"domain": ["non-Gaussian", "Gaussian"], "range": [[1, 0], [12, 7]]}, "legend": {"title": null}},
   "detail": {"field": "c"},
   "order": {"field": "i", "type": "quantitative"}
  }},
 {"data": {"name": "contours"},
  "transform": [{"filter": "datum.k === 'Gaussian'"}],
  "mark": {"type": "line", "interpolate": "cardinal-closed", "strokeWidth": 1.25, "clip": true},
  "encoding": {
   "x": {"field": "x", "type": "quantitative", "axis": null},
   "y": {"field": "y", "type": "quantitative", "axis": null},
   "color": {"field": "k", "type": "nominal"},
   "strokeDash": {"field": "k", "type": "nominal"},
   "detail": {"field": "c"},
   "order": {"field": "i", "type": "quantitative"}
  }},
 {"data": {"values": [{"t": "(a)", "x": 4.275, "y": 3.646}]},
  "mark": {"type": "text", "font": "Liberation Serif", "fontSize": 48, "color": "#000000", "baseline": "alphabetic", "align": "center"},
  "encoding": {
   "x": {"field": "x", "type": "quantitative", "axis": {"orient": "top", "values": [0, 1, 2, 3, 4, 5], "labels": false, "title": null}},
   "y": {"field": "y", "type": "quantitative", "axis": {"orient": "right", "values": [0, 1, 2, 3, 4, 5], "labels": false, "title": null}},
   "text": {"field": "t"}
  }},
 {"data": {"values": [{"t": "γ₄ = 6", "x": 4.31, "y": 3.168}, {"t": "γ₃ = 0.5", "x": 4.31, "y": 2.884}]},
  "mark": {"type": "text", "font": "Liberation Serif", "fontSize": 31, "color": "#ff0000", "baseline": "alphabetic", "align": "center"},
  "encoding": {
   "x": {"field": "x", "type": "quantitative", "axis": null},
   "y": {"field": "y", "type": "quantitative", "axis": null},
   "text": {"field": "t"}
  }}
],
"resolve": {"axis": {"x": "independent", "y": "independent"}}
}
